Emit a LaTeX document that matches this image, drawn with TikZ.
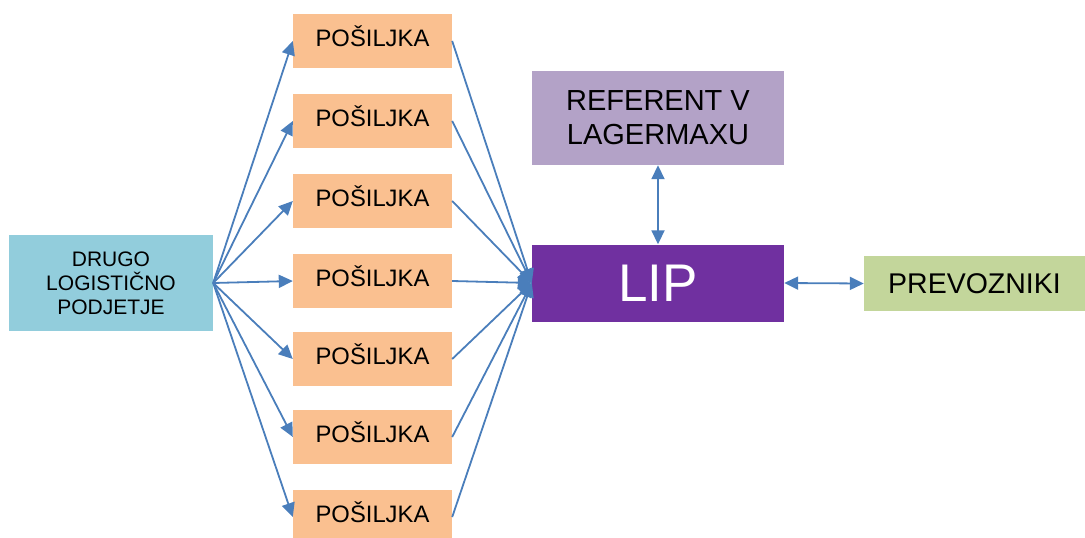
\documentclass[tikz,border=0pt]{standalone}
\usepackage{fontspec}
\setmainfont{Liberation Sans}
\usetikzlibrary{arrows.meta}
\definecolor{aqua}{HTML}{92CDDC}
\definecolor{peach}{HTML}{FAC090}
\definecolor{lilac}{HTML}{B3A2C7}
\definecolor{violet}{HTML}{7030A0}
\definecolor{olive}{HTML}{C3D69B}
\definecolor{link}{HTML}{4A7EBB}
\tikzset{
  box/.style={inner sep=0pt, align=center, text=black},
  parcel/.style={box, fill=peach, minimum width=159pt, minimum height=54pt,
    text height=17pt, text depth=6pt,
    font=\fontsize{23.8}{28}\selectfont},
  arr/.style={draw=link, line width=1.8pt, -{Triangle[length=14pt,width=13pt]}},
  darr/.style={draw=link, line width=1.8pt,
    {Triangle[length=14pt,width=13pt]}-{Triangle[length=14pt,width=13pt]}}
}
\begin{document}
\begin{tikzpicture}[x=1pt,y=-1pt]
\useasboundingbox (0,0) rectangle (1085,538);
% sender
\node[box, fill=aqua, minimum width=204pt, minimum height=96pt,
  font=\fontsize{21}{24}\selectfont] (drugo) at (111,283)
  {DRUGO\\LOGISTIČNO\\PODJETJE};
% shipments
\node[parcel] (p1) at (372.5,41) {POŠILJKA};
\node[parcel] (p2) at (372.5,121) {POŠILJKA};
\node[parcel] (p3) at (372.5,201) {POŠILJKA};
\node[parcel] (p4) at (372.5,281) {POŠILJKA};
\node[parcel] (p5) at (372.5,359) {POŠILJKA};
\node[parcel] (p6) at (372.5,437) {POŠILJKA};
\node[parcel] (p7) at (372.5,517) {POŠILJKA};
% platform and partners
\node[box, fill=violet, text=white, minimum width=252pt, minimum height=77pt,
  font=\fontsize{53}{60}\selectfont] (lip) at (658,283) {LIP};
\node[box, fill=lilac, minimum width=252pt, minimum height=94pt,
  font=\fontsize{29}{34}\selectfont] (ref) at (658,118)
  {REFERENT V\\LAGERMAXU};
\node[box, fill=olive, minimum width=221pt, minimum height=55pt,
  font=\fontsize{28.5}{32}\selectfont] (prev) at (974.5,283.5) {PREVOZNIKI};
% connectors
\foreach \p in {p1,p2,p3,p4,p5,p6,p7}{
  \draw[arr] (drugo.east) -- (\p.west);
  \draw[arr] (\p.east) -- (lip.west);
}
\draw[darr] (ref.south) -- (lip.north);
\draw[darr] (lip.east) -- (prev.west);
\end{tikzpicture}
\end{document}
